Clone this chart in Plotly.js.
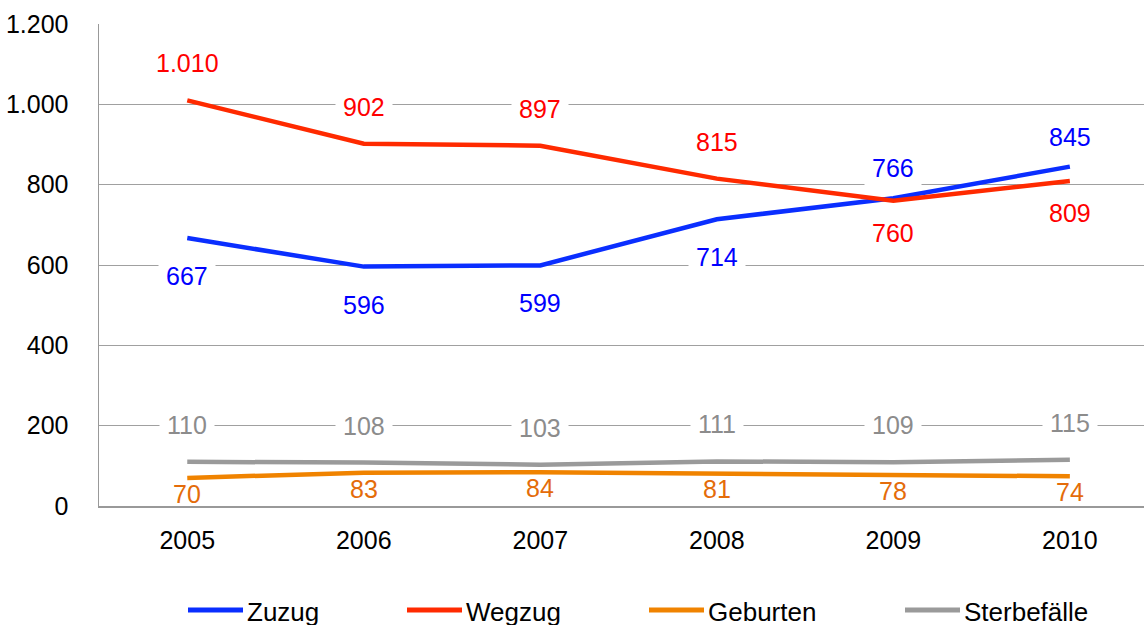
<!DOCTYPE html>
<html>
<head>
<meta charset="utf-8">
<script src="https://cdn.plot.ly/plotly-3.0.1.min.js"></script>
<style>
html,body{margin:0;padding:0;background:#fff;}
#chart{width:1144px;height:625px;}
</style>
</head>
<body>
<div id="chart"></div>
<script>
// ---- data ----
var years = [2005, 2006, 2007, 2008, 2009, 2010];
var seriesNames = ["Zuzug", "Wegzug", "Geburten", "Sterbefälle"];
var zuzug = [667, 596, 599, 714, 766, 845];
var wegzug = [1010, 902, 897, 815, 760, 809];
var geburten = [70, 83, 84, 81, 78, 74];
var sterbefaelle = [110, 108, 103, 111, 109, 115];
var yTicks = [0, 200, 400, 600, 800, 1000, 1200];

// ---- styling ----
var FONT = "Liberation Sans, Arial, Helvetica, sans-serif";
var lineColors = ["#0A2EFF", "#FF2A00", "#F08300", "#9A9A9A"];
var labelColors = ["#0000FF", "#FF0000", "#E46C0A", "#8C8C8C"];
var seriesData = [zuzug, wegzug, geburten, sterbefaelle];

function fmtDE(v) {
  var s = String(Math.round(v));
  return s.replace(/\B(?=(\d{3})+(?!\d))/g, ".");
}

var traces = seriesData.map(function (d, i) {
  return {
    type: "scatter", mode: "lines", x: years, y: d, name: seriesNames[i],
    line: {color: lineColors[i], width: 4.5}, showlegend: false,
    cliponaxis: false, hoverinfo: "skip"
  };
});

var annotations = [];
seriesData.forEach(function (d, i) {
  d.forEach(function (v, k) {
    var shift, bg = "#ffffff";
    if (i === 0) shift = (v > wegzug[k]) ? 30 : -38;
    else if (i === 1) shift = (v > zuzug[k]) ? 37 : -32;
    else if (i === 2) { shift = -16; bg = "rgba(0,0,0,0)"; }
    else shift = 37;
    annotations.push({
      x: years[k], y: v, xref: "x", yref: "y", text: fmtDE(v),
      showarrow: false, yshift: shift, bgcolor: bg, borderpad: 7,
      font: {family: FONT, size: 25, color: labelColors[i]}
    });
  });
});

// ---- custom legend (paper coords) ----
var plotL = 99, plotW = 1045, plotB = 506, plotH = 482;
function px2x(p) { return (p - plotL) / plotW; }
function py2y(p) { return (plotB - p) / plotH; }
var legendLineStart = [188, 407, 649, 905];
var shapes = [];
seriesNames.forEach(function (n, i) {
  shapes.push({
    type: "line", xref: "paper", yref: "paper",
    x0: px2x(legendLineStart[i]), x1: px2x(legendLineStart[i] + 55),
    y0: py2y(610), y1: py2y(610),
    line: {color: lineColors[i], width: 5}
  });
  annotations.push({
    xref: "paper", yref: "paper", x: px2x(legendLineStart[i] + 57), y: py2y(612),
    xanchor: "left", yanchor: "middle", text: n, showarrow: false,
    font: {family: FONT, size: 26, color: "#000000"}
  });
});

var layout = {
  width: 1144, height: 625,
  margin: {l: plotL, r: 0, t: 24, b: 625 - plotB, pad: 0},
  paper_bgcolor: "#ffffff", plot_bgcolor: "#ffffff",
  separators: ",.",
  showlegend: false,
  font: {family: FONT, size: 25, color: "#000000"},
  xaxis: {
    range: [2004.5, 2010.42], tickvals: years, ticktext: years.map(String),
    showgrid: false, zeroline: false, showline: true, linecolor: "#999999", linewidth: 1.5,
    ticks: "", ticklabelstandoff: 11,
    tickfont: {family: FONT, size: 25, color: "#000000"}
  },
  yaxis: {
    range: [0, 1200], tickvals: yTicks, separatethousands: true, tickformat: ",d",
    showgrid: true, gridcolor: "#A0A0A0", gridwidth: 1,
    zeroline: false, showline: true, linecolor: "#999999", linewidth: 1.5,
    ticks: "", ticklabelstandoff: 24,
    tickfont: {family: FONT, size: 25, color: "#000000"}
  },
  annotations: annotations,
  shapes: shapes
};

Plotly.newPlot("chart", traces, layout, {staticPlot: true, displayModeBar: false});
</script>
</body>
</html>
